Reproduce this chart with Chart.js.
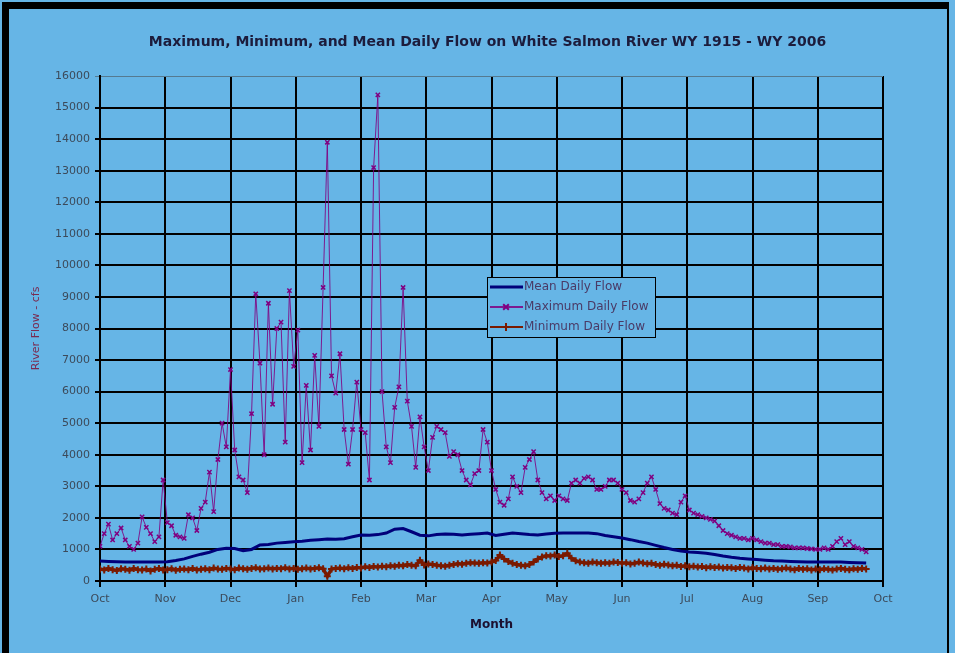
<!DOCTYPE html>
<html>
<head>
<meta charset="utf-8">
<script src="https://cdn.jsdelivr.net/npm/chart.js@4.4.1/dist/chart.umd.min.js"></script>
<style>
html, body { margin: 0; padding: 0; background: #66b5e6; }
#wrap { position: relative; width: 955px; height: 653px; }
</style>
</head>
<body>
<div id="wrap"><canvas id="flow_chart" width="955" height="653"></canvas></div>
<script>
// Water year Oct 1 .. Sep 30, x = day of water year
var monthLabels = ["Oct", "Nov", "Dec", "Jan", "Feb", "Mar", "Apr", "May", "Jun", "Jul", "Aug", "Sep", "Oct"];
var chartTitle = "Maximum, Minimum, and Mean Daily Flow on White Salmon River WY 1915 - WY 2006";

// maximum daily flow, one value every 2 days (cfs)
var maxStep = 2;
var maxFlow = [
    1100, 1500, 1800, 1300, 1500, 1680, 1300, 1100, 1000, 1200,
    2030, 1700, 1500, 1250, 1400, 3200, 1850, 1750, 1450, 1400,
    1350, 2100, 2000, 1600, 2300, 2500, 3450, 2200, 3850, 5000,
    4250, 6700, 4150, 3300, 3200, 2800, 5300, 9100, 6900, 4000,
    8800, 5600, 8000, 8200, 4400, 9200, 6800, 7950, 3750, 6200,
    4150, 7150, 4900, 9300, 13900, 6500, 5950, 7200, 4800, 3700,
    4800, 6300, 4800, 4700, 3200, 13100, 15400, 6000, 4250, 3750,
    5500, 6150, 9300, 5700, 4900, 3600, 5200, 4250, 3500, 4550,
    4900, 4800, 4700, 3950, 4100, 4000, 3500, 3200, 3050, 3400,
    3500, 4800, 4400, 3500, 2900, 2500, 2400, 2600, 3300, 3000,
    2800, 3600, 3850, 4100, 3200, 2800, 2600, 2700, 2550, 2700,
    2600, 2550, 3100, 3200, 3100, 3250, 3300, 3200, 2900, 2900,
    3000, 3200, 3200, 3100, 2900, 2800, 2550, 2500, 2600, 2800,
    3100, 3300, 2900, 2450, 2300, 2250, 2150, 2100, 2500, 2700,
    2250, 2150, 2100, 2050, 2000, 1950, 1900, 1750, 1600, 1500,
    1450, 1400, 1350, 1350, 1300, 1350, 1300, 1250, 1200, 1200,
    1150, 1150, 1100, 1100, 1080, 1050, 1050, 1050, 1030, 1020,
    1000, 1000, 1050, 1000, 1100, 1250, 1350, 1150, 1250, 1100,
    1050, 1000, 920
];

// minimum daily flow, one value every 2 days (cfs)
var minStep = 2;
var minFlow = [
    380, 350, 400, 360, 330, 390, 370, 340, 400, 360,
    350, 380, 320, 370, 400, 350, 360, 390, 340, 370,
    380, 360, 400, 350, 370, 390, 360, 410, 380, 370,
    400, 380, 360, 410, 390, 370, 400, 420, 380, 390,
    410, 380, 400, 390, 420, 380, 400, 370, 390, 410,
    380, 400, 420, 390, 150, 380, 400, 410, 390, 420,
    400, 430, 410, 450, 430, 460, 440, 470, 450, 480,
    470, 500, 480, 520, 500, 480, 660, 510, 540, 520,
    500, 480, 470, 500, 520, 550, 530, 560, 580, 570,
    560, 580, 570, 600, 650, 820, 700, 620, 560, 520,
    500, 480, 520, 600, 700, 760, 800, 790, 820, 780,
    800, 880, 720, 640, 600, 580, 560, 600, 580, 560,
    580, 560, 600, 590, 560, 580, 540, 560, 600, 570,
    550, 560, 520, 500, 530, 510, 480, 500, 460, 480,
    450, 470, 440, 460, 420, 450, 430, 440, 410, 430,
    420, 400, 430, 410, 380, 420, 400, 390, 410, 380,
    400, 370, 390, 410, 380, 360, 400, 370, 390, 350,
    380, 360, 390, 370, 350, 380, 400, 370, 360, 390,
    370, 400, 380
];

// mean daily flow, one value every 4 days (cfs)
var meanStep = 4;
var meanFlow = [
    630, 620, 610, 600, 600, 600, 600, 600, 610, 650,
    700, 780, 850, 910, 1000, 1040, 1030, 960, 1000, 1140,
    1160, 1200, 1220, 1240, 1260, 1290, 1310, 1330, 1320, 1340,
    1400, 1460, 1450, 1470, 1520, 1640, 1660, 1560, 1450, 1430,
    1470, 1490, 1480, 1460, 1480, 1500, 1520, 1440, 1480, 1520,
    1500, 1470, 1460, 1490, 1510, 1520, 1520, 1520, 1520, 1500,
    1440, 1400, 1360, 1310, 1250, 1200, 1130, 1060, 1000, 950,
    920, 900, 880, 840, 790, 750, 720, 700, 680, 660,
    640, 630, 620, 610, 600, 600, 600, 600, 600, 590,
    580, 570
];

var bgColor = "#66b5e6";
var fontName = "'DejaVu Sans', sans-serif";

function toPoints(values, step) {
    return values.map(function (v, i) { return { x: i * step, y: v }; });
}

var backgroundPlugin = {
    id: "frameBackground",
    beforeDraw: function (chart) {
        var ctx = chart.ctx;
        ctx.save();
        ctx.fillStyle = bgColor;
        ctx.fillRect(0, 0, chart.width, chart.height);
        ctx.fillStyle = "#000";
        ctx.fillRect(2, 2, chart.width - 8, 7);   // top band
        ctx.fillRect(2, 2, 7, chart.height - 2);  // left band
        ctx.fillRect(chart.width - 8, 2, 2, chart.height - 2);
        ctx.restore();
    },
    afterDraw: function (chart) {
        // title centred over the plot area, like the spreadsheet original
        var ctx = chart.ctx;
        var area = chart.chartArea;
        ctx.save();
        ctx.font = "bold 14px " + fontName;
        ctx.fillStyle = "#1c1c3c";
        ctx.textAlign = "center";
        ctx.textBaseline = "middle";
        ctx.fillText(chartTitle, (area.left + area.right) / 2 - 4, 42);
        ctx.restore();
    }
};

var boxLegendPlugin = {
    id: "boxLegend",
    afterDraw: function (chart) {
        var ctx = chart.ctx;
        var left = 487, top = 277, w = 168, h = 60;
        ctx.save();
        ctx.fillStyle = bgColor;
        ctx.fillRect(left, top, w, h);
        ctx.strokeStyle = "#000";
        ctx.lineWidth = 1;
        ctx.strokeRect(left + 0.5, top + 0.5, w, h);
        ctx.font = "12px " + fontName;
        ctx.textBaseline = "middle";
        chart.data.datasets.forEach(function (ds, i) {
            var y = top + 10 + i * 20;
            ctx.strokeStyle = ds.borderColor;
            ctx.lineWidth = ds.legendWidth;
            ctx.beginPath();
            ctx.moveTo(left + 3, y);
            ctx.lineTo(left + 36, y);
            ctx.stroke();
            if (ds.pointRadius > 0) {
                ctx.strokeStyle = ds.pointBorderColor;
                Chart.helpers.drawPoint(ctx, {
                    pointStyle: ds.pointStyle,
                    radius: 4,
                    borderWidth: 1.5,
                    rotation: 0
                }, left + 19, y);
            }
            ctx.fillStyle = "#4a3a66";
            ctx.fillText(ds.label, left + 37, y);
        });
        ctx.restore();
    }
};

var chart = new Chart(document.getElementById("flow_chart"), {
    type: "line",
    data: {
        datasets: [{
            label: "Mean Daily Flow",
            data: toPoints(meanFlow, meanStep),
            borderColor: "#00007a",
            borderWidth: 3,
            legendWidth: 3,
            pointRadius: 0
        }, {
            label: "Maximum Daily Flow",
            data: toPoints(maxFlow, maxStep),
            borderColor: "rgba(128, 0, 128, 0.85)",
            borderWidth: 1,
            legendWidth: 2,
            pointStyle: "crossRot",
            pointRadius: 3,
            pointBorderColor: "#800080",
            pointBorderWidth: 1.5
        }, {
            label: "Minimum Daily Flow",
            data: toPoints(minFlow, minStep),
            borderColor: "#7a1a00",
            borderWidth: 3.5,
            legendWidth: 2,
            pointStyle: "cross",
            pointRadius: 3.5,
            pointBorderColor: "#7a1a00",
            pointBorderWidth: 2
        }]
    },
    options: {
        responsive: false,
        animation: false,
        layout: { padding: { left: 0, right: 72, top: 76, bottom: 0 } },
        plugins: {
            legend: { display: false },
            tooltip: { enabled: false },
            title: { display: false }
        },
        scales: {
            x: {
                type: "linear",
                min: 0,
                max: 372,
                afterFit: function (scale) { scale.height = 72; },
                ticks: {
                    stepSize: 31,
                    autoSkip: false,
                    maxRotation: 0,
                    padding: 6,
                    color: "#3c4a5a",
                    font: { family: fontName, size: 11 },
                    callback: function (v) { return monthLabels[Math.round(v / 31)]; }
                },
                grid: { color: "#000", lineWidth: 2, tickLength: 6 },
                border: { color: "#000", width: 2 },
                title: {
                    display: true,
                    text: "Month",
                    color: "#1c1030",
                    font: { family: fontName, size: 12, weight: "bold" },
                    padding: { top: 0, bottom: 21 }
                }
            },
            y: {
                min: 0,
                max: 16000,
                afterFit: function (scale) { scale.width = 100; },
                ticks: {
                    stepSize: 1000,
                    padding: 5,
                    color: "#3c4a5a",
                    font: { family: fontName, size: 11 },
                    callback: function (v) { return String(v); }
                },
                grid: {
                    color: function (c) { return c.tick && c.tick.value === 16000 ? "#557a90" : "#000"; },
                    lineWidth: function (c) { return c.tick && c.tick.value === 16000 ? 1 : 2; },
                    tickLength: 5
                },
                border: { color: "#000", width: 2 },
                title: {
                    display: true,
                    text: "River Flow - cfs",
                    color: "#7a2a50",
                    font: { family: fontName, size: 11 },
                    padding: { top: 30, bottom: 0 }
                }
            }
        }
    },
    plugins: [backgroundPlugin, boxLegendPlugin]
});
</script>
</body>
</html>
